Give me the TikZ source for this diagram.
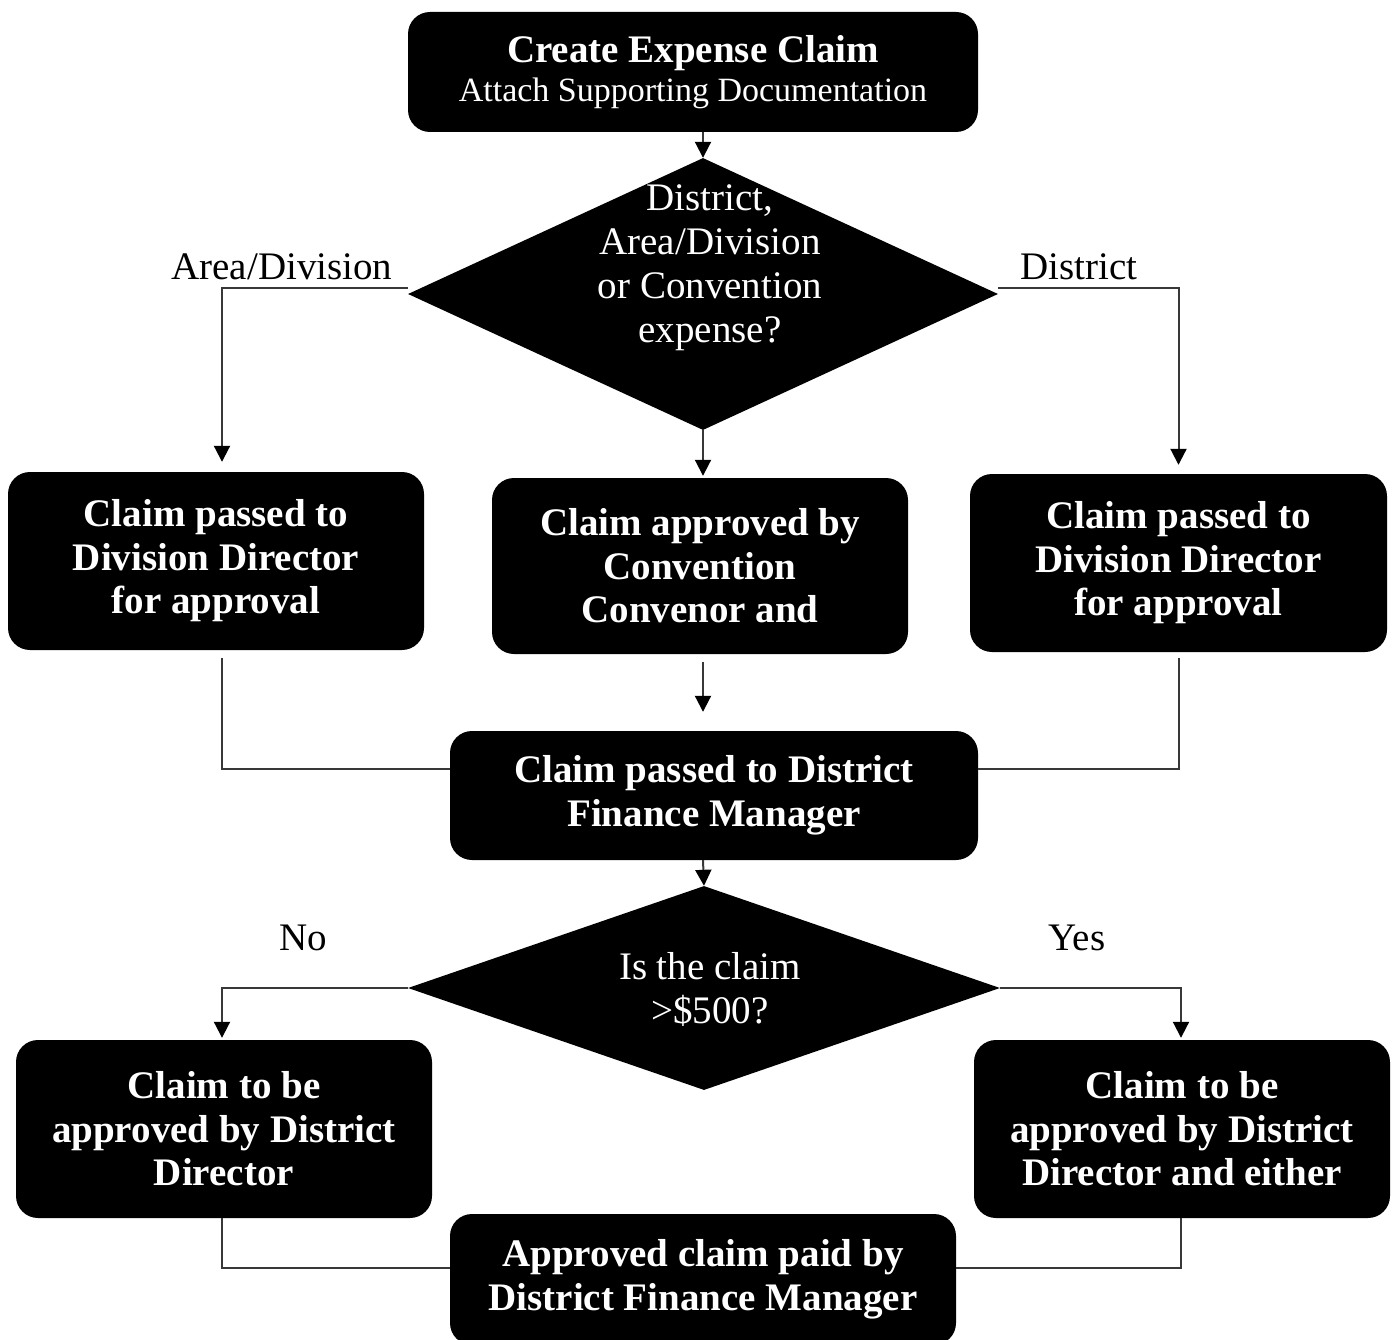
\documentclass[tikz,border=0pt]{standalone}
\usepackage{fontspec}
\setmainfont{Liberation Serif}
\usetikzlibrary{shapes.geometric,arrows.meta}
\tikzset{
  box/.style={draw=none,fill=black,text=white,rounded corners=22pt,align=center,
    inner sep=0pt,font=\fontsize{39}{43.5}\selectfont\bfseries},
  dia/.style={shape=diamond,fill=black,inner sep=0pt,draw=none},
  dtext/.style={text=white,align=center,font=\fontsize{39}{44}\selectfont},
  lab/.style={anchor=base,font=\fontsize{39}{44}\selectfont},
  conn/.style={draw=black!78,line width=2pt},
  arr/.style={conn,-{Triangle[width=16pt,length=16pt,color=black]}}
}
\begin{document}
\begin{tikzpicture}[x=1pt,y=-1pt]
\useasboundingbox (0,0) rectangle (1395,1340);
\clip (0,0) rectangle (1395,1340);
% boxes
\node[box,minimum width=570pt,minimum height=120pt] (top) at (693,72)
  {Create Expense Claim\\[-4pt]{\fontsize{34}{40}\selectfont\mdseries Attach Supporting Documentation}};
\node[dia,minimum width=590pt,minimum height=272pt] (d1) at (703,294) {};
\node[dtext] (d1t) at (710,268) {District,\\Area/Division\\or Convention\\expense?};
\node[box,minimum width=416pt,minimum height=178pt] (b1) at (216,561) {Claim passed to\\Division Director\\for approval};
\node[box,minimum width=416pt,minimum height=176pt] (b2) at (700,566) {Claim approved by\\Convention\\Convenor and};
\node[box,minimum width=417pt,minimum height=178pt] (b3) at (1178.5,563) {Claim passed to\\Division Director\\for approval};
\node[box,minimum width=528pt,minimum height=129pt] (fm) at (714,795.5) {Claim passed to District\\Finance Manager};
\node[dia,minimum width=592pt,minimum height=204pt] (d2) at (704,988) {};
\node[dtext] (d2t) at (710,989) {Is the claim\\>\$500?};
\node[box,minimum width=416pt,minimum height=178pt] (bl) at (224,1129) {Claim to be\\approved by District\\Director};
\node[box,minimum width=416pt,minimum height=178pt] (br) at (1182,1129) {Claim to be\\approved by District\\Director and either};
\node[box,minimum width=506pt,minimum height=131pt] (fin) at (703,1279.5) {Approved claim paid by\\District Finance Manager};
% labels
\node[lab] (l1) at (282,280) {Area/Division};
\node[lab] (l2) at (1079,280) {District};
\node[lab] (l3) at (303,950) {No};
\node[lab] (l4) at (1077,950) {Yes};
% connectors
\draw[arr] ([xshift=10pt]top.south) -- (d1.north);
\draw[arr] ([yshift=6pt]d1.west) -| ([xshift=6pt,yshift=10pt]b1.north);
\draw[arr] ([yshift=6pt]d1.east) -| ([yshift=9pt]b3.north);
\draw[arr] (d1.south) -- ([xshift=3pt,yshift=2pt]b2.north);
\draw[arr] ([xshift=3pt,yshift=-8pt]b2.south) -- ([xshift=-11pt,yshift=19pt]fm.north);
\draw[conn] ([xshift=6pt,yshift=-8pt]b1.south) |- ([yshift=26.5pt]fm.west);
\draw[conn] ([yshift=-6pt]b3.south) |- ([yshift=26.5pt]fm.east);
\draw[arr] ([xshift=-11pt]fm.south) -- (d2.north);
\draw[arr] (d2.west) -| ([xshift=-2pt,yshift=2pt]bl.north);
\draw[arr] (d2.east) -| ([xshift=-1pt,yshift=2pt]br.north);
\draw[conn] ([xshift=-2pt]bl.south) |- ([yshift=11.5pt]fin.west);
\draw[conn] ([xshift=-1pt]br.south) |- ([yshift=11.5pt]fin.east);
\end{tikzpicture}
\end{document}
